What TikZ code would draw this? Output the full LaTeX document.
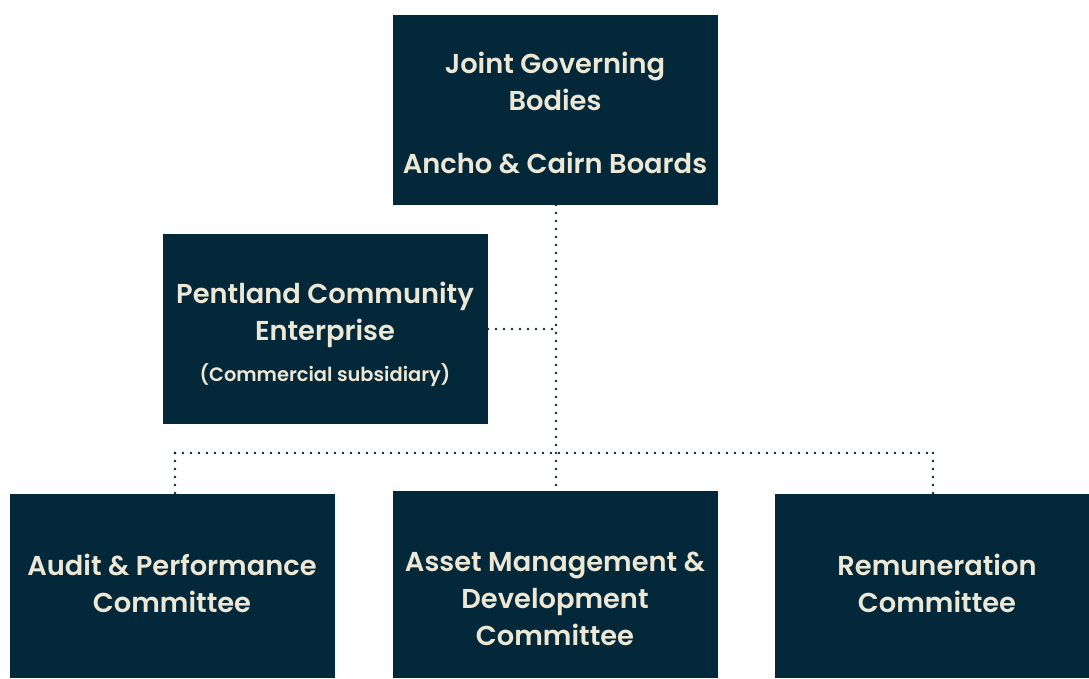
\documentclass[tikz,border=0pt]{standalone}
\usepackage{fontspec}
\setmainfont{Poppins SemiBold}
\definecolor{navy}{HTML}{03283A}
\definecolor{cream}{HTML}{EDE8D5}
\begin{document}
\begin{tikzpicture}[x=1pt,y=-1pt,
  box/.style={fill=navy,draw=none,inner sep=0pt},
  lbl/.style={text=cream,align=center,font=\fontsize{27.3}{37}\selectfont},
  dotline/.style={draw=navy,line width=2.6pt,line cap=round,dash pattern=on 0pt off 8pt}]
\useasboundingbox (0,0) rectangle (1089,678);
\fill[white] (0,0) rectangle (1089,678);
% boxes
\path[box] (393,15) rectangle (718,205);
\path[box] (163,234) rectangle (488,424);
\path[box] (10,494) rectangle (335,678);
\path[box] (393,491) rectangle (718,678);
\path[box] (775,494) rectangle (1089,678);
\coordinate (topB) at (556,205);
\coordinate (pentR) at (488,329);
\coordinate (j1) at (556,329);
\coordinate (j2) at (556,453);
\coordinate (hl) at (175,453);
\coordinate (hr) at (933,453);
\coordinate (auditT) at (175,494);
\coordinate (assetT) at (556,491);
\coordinate (remT) at (933,494);
% texts
\node[lbl] (top1) at (555,81) {Joint Governing\\Bodies};
\node[lbl] (top2) at (555,163) {Ancho \& Cairn Boards};
\node[lbl] (pent) at (325,315) {Pentland Community\\Enterprise};
\node[text=cream,font=\fontsize{19.4}{22}\selectfont] (pent2) at (325,375) {(Commercial subsidiary)};
\node[lbl] (audit) at (172,583.5) {Audit \& Performance\\Committee};
\node[lbl] (asset) at (555,599) {Asset Management \&\\Development\\Committee};
\node[lbl] (rem) at (937,583.5) {Remuneration\\Committee};
% connectors
\draw[dotline] (topB) -- (assetT);
\draw[dotline] (pentR) -- (j1);
\draw[dotline] (hl) -- (hr);
\draw[dotline] (hl) -- (auditT);
\draw[dotline] (hr) -- (remT);
\end{tikzpicture}
\end{document}
